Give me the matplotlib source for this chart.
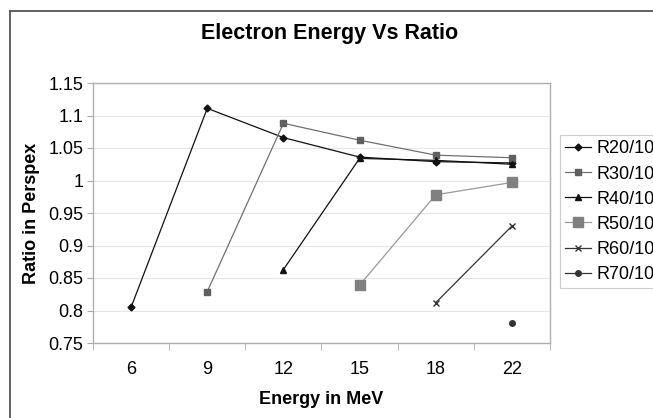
import numpy as np
import matplotlib
matplotlib.use("Agg")
import matplotlib.pyplot as plt
from matplotlib.lines import Line2D

plt.rcParams['font.family'] = ['Liberation Sans', 'DejaVu Sans']

categories = ["6", "9", "12", "15", "18", "22"]
nan = np.nan
r20 = [0.805, 1.111, 1.066, 1.036, 1.029, 1.027]
r30 = [nan, 0.829, 1.088, 1.062, 1.039, 1.035]
r40 = [nan, nan, 0.863, 1.034, 1.031, 1.025]
r50 = [nan, nan, nan, 0.839, 0.978, 0.997]
r60 = [nan, nan, nan, nan, 0.812, 0.930]
r70 = [nan, nan, nan, nan, nan, 0.780]
series_names = ["R20/10", "R30/10", "R40/10", "R50/10", "R60/10", "R70/10"]

fig = plt.figure(figsize=(6.53, 4.18), dpi=100)
ax = fig.add_axes([93/653, 1-343/418, (550-93)/653, (343-83)/418])

x = np.arange(len(categories))
styles = [
    dict(color="#111111", marker="D", ms=3.5, mfc="#111111", mec="#111111", lw=0.9),
    dict(color="#707070", marker="s", ms=4, mfc="#606060", mec="#606060", lw=0.9),
    dict(color="#111111", marker="^", ms=4.5, mfc="#111111", mec="#111111", lw=0.9),
    dict(color="#999999", marker="s", ms=7.5, mfc="#808080", mec="#808080", lw=0.9),
    dict(color="#333333", marker="x", ms=4.5, mfc="#333333", mec="#333333", lw=0.9, mew=1.0),
    dict(color="#333333", marker="o", ms=4, mfc="#333333", mec="#333333", lw=0.9),
]
for vals, name, st in zip([r20, r30, r40, r50, r60, r70], series_names, styles):
    ax.plot(x, vals, label=name, **st)

ax.set_xlim(-0.5, len(categories) - 0.5)
ax.set_ylim(0.75, 1.15)
ax.set_yticks(np.arange(0.75, 1.1501, 0.05))
ax.set_yticklabels(["0.75", "0.8", "0.85", "0.9", "0.95", "1", "1.05", "1.1", "1.15"])
ax.set_xticks(x)
ax.set_xticklabels(categories)
ax.set_xticks(np.arange(-0.5, len(categories)), minor=True)
ax.tick_params(axis='x', which='major', length=0, labelsize=13, pad=13)
ax.tick_params(axis='x', which='minor', length=5, color="#aaaaaa")
ax.tick_params(axis='y', length=4, color="#aaaaaa", labelsize=13, pad=3)
ax.grid(axis='y', color="#e6e6e6", lw=0.8)
ax.set_axisbelow(True)
for s in ax.spines.values():
    s.set_color("#b0b0b0")
    s.set_linewidth(1.0)

ax.set_xlabel("Energy in MeV", fontsize=13, fontweight='bold', labelpad=9)
ax.set_ylabel("Ratio in Perspex", fontsize=13, fontweight='bold', labelpad=6)
fig.text(330/653, 1-33/418, "Electron Energy Vs Ratio", fontsize=15.5, fontweight='bold',
         ha='center', va='center')

leg = fig.legend(loc='upper left', bbox_to_anchor=(560/653, 1-135/418), fontsize=13,
                 frameon=True, fancybox=False, edgecolor="#c0c0c0", handlelength=1.4,
                 handletextpad=0.3, labelspacing=0.45, borderpad=0.3, borderaxespad=0)
leg.get_frame().set_linewidth(0.8)

# outer chart border (left and top edges only, as in the reference crop)
bx, by = 9.5/653, 1 - 10.5/418
fig.add_artist(Line2D([bx, bx], [0, by], transform=fig.transFigure, color="#555555", lw=1.3))
fig.add_artist(Line2D([bx, 1], [by, by], transform=fig.transFigure, color="#555555", lw=1.3))

fig.savefig("out.png", dpi=100)
